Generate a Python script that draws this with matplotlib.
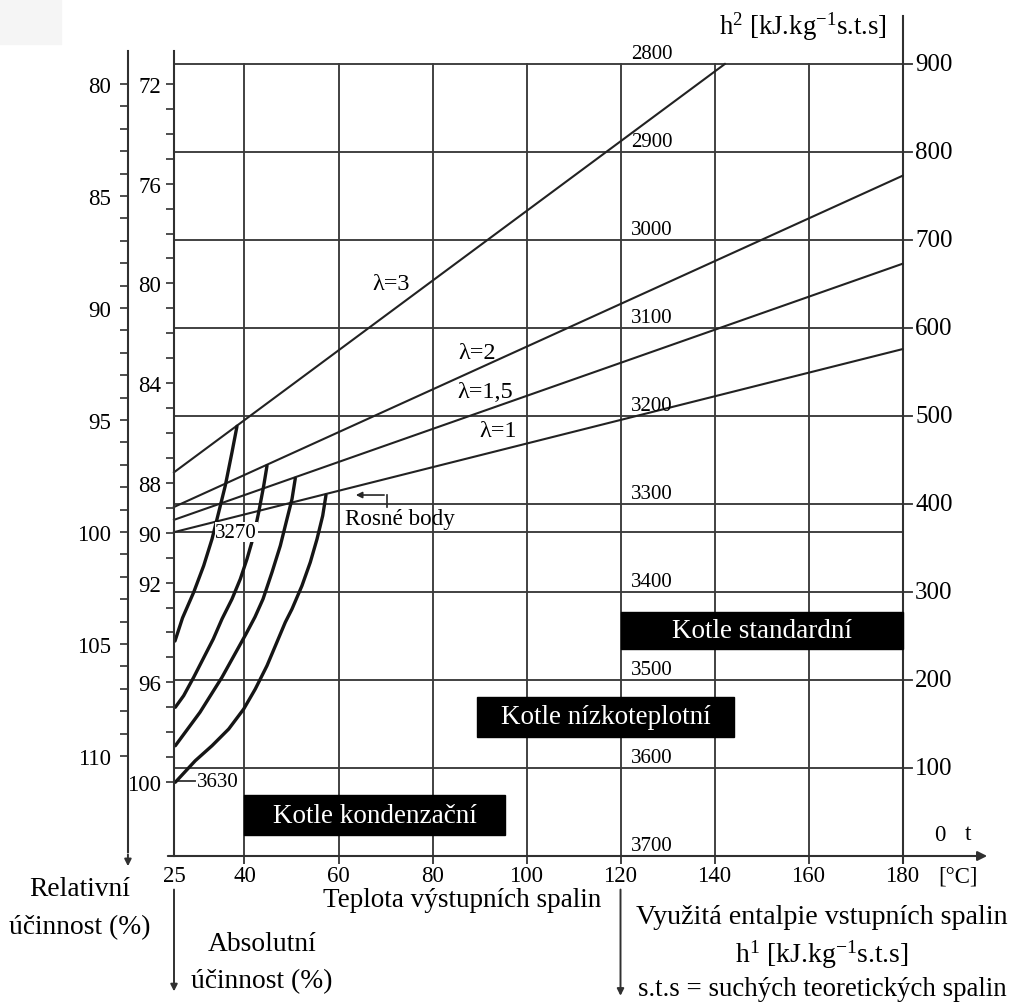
import numpy as np
import matplotlib
matplotlib.use("Agg")
import matplotlib.pyplot as plt
from matplotlib.patches import Rectangle
from matplotlib.ticker import FixedLocator

plt.rcParams['font.family'] = ['Liberation Serif', 'DejaVu Serif']
plt.rcParams['mathtext.fontset'] = 'custom'
plt.rcParams['mathtext.rm'] = 'Liberation Serif'
plt.rcParams['mathtext.it'] = 'Liberation Serif:italic'

# --- data (x = teplota [°C], y = h2 [kJ/kg]) ---
teploty = [25, 40, 60, 80, 100, 120, 140, 160, 180]
h2_hodnoty = [100, 200, 300, 400, 500, 600, 700, 800, 900]
h1_hodnoty = [3700, 3600, 3500, 3400, 3300, 3200, 3100, 3000, 2900, 2800]
h2_pro_h1 = [0, 100, 200, 300, 400, 500, 600, 700, 800, 900]
h2_3270 = 368
h2_3630 = 85

abs_major = [72, 76, 80, 84, 88, 90, 92, 96, 100]
abs_minor = list(range(72, 101))
rel_major = [80, 85, 90, 95, 100, 105, 110]
rel_minor = list(range(80, 111))

# lambda lines (two end points each)
lam_text = ['λ=3', 'λ=2', 'λ=1,5', 'λ=1']
lam_t = [[25, 142.2], [25, 180], [25, 180], [25, 180]]
lam_h2 = [[436, 900], [396.6, 773], [382, 673], [368, 576]]

# dew point curves (rosne body)
rb1_t = [38.40, 37.34, 35.91, 34.51, 33.09, 31.32, 29.19, 26.81, 25.21]
rb1_h2 = [488.3, 458.8, 420.8, 390.6, 360.2, 329.9, 299.7, 270.5, 244.3]
rb2_t = [44.79, 44.09, 43.02, 41.96, 40.53, 39.11, 37.34, 35.21, 33.36, 29.19, 27.06, 25.28]
rb2_h2 = [443.5, 420.8, 390.6, 364.0, 337.5, 314.8, 292.0, 269.3, 246.6, 203.1, 182.2, 169.0]
rb3_t = [50.81, 50.11, 49.04, 47.62, 45.85, 43.94, 42.23, 40.32, 35.21, 30.53, 25.28]
rb3_h2 = [429.2, 405.7, 383.0, 352.6, 322.4, 292.0, 271.6, 252.3, 203.1, 163.3, 125.3]
rb4_t = [57.34, 56.64, 55.43, 54.00, 52.23, 50.11, 48.68, 44.79, 42.30, 39.83, 36.64,
         33.09, 29.53, 25.28]
rb4_h2 = [410.2, 386.7, 360.2, 333.8, 307.2, 280.7, 265.6, 216.3, 189.8, 167.0, 144.3,
          125.3, 108.3, 83.8]

kotle_nazvy = ['Kotle standardní', 'Kotle nízkoteplotní', 'Kotle kondenzační']
kotle_t = [[120, 180], [89.5, 144.1], [40, 95.4]]
kotle_h2 = [[235, 277], [135, 181], [24, 69]]

fig = plt.figure(figsize=(10.14, 10.04), dpi=100)
fig.patches.append(Rectangle((0, 0.955), 0.06, 0.045, transform=fig.transFigure,
                             color='#f5f5f5', zorder=0))

ax = fig.add_axes([0, 0, 1, 1])
ax.set_xlim(-12.02, 203.72)
ax.set_ylim(-167.05, 973.86)
ax.axis('off')

grid_c = '#3a3a3a'
# horizontal grid lines (extend past right axis as ticks)
for h in h2_hodnoty:
    ax.plot([25, 182.1], [h, h], color=grid_c, lw=1.35, zorder=1)
ax.plot([25, 180], [h2_3270, h2_3270], color=grid_c, lw=1.35, zorder=1)
ax.plot([25, 29.5], [h2_3630, h2_3630], color=grid_c, lw=1.35, zorder=1)

# vertical grid lines
for t in teploty[1:-1]:
    ax.plot([t, t], [-9, 900], color=grid_c, lw=1.35, zorder=1)
ax.plot([180, 180], [-9, 954.5], color='#303030', lw=1.5, zorder=1)

# bottom axis with arrow
ax.annotate('', xy=(198.6, 0), xytext=(23.1, 0),
            arrowprops=dict(arrowstyle='-|>', color='#303030', lw=1.5, mutation_scale=14))
# arrows below the axis (abs. efficiency and h1)
ax.annotate('', xy=(25, -157), xytext=(25, -35),
            arrowprops=dict(arrowstyle='-|>', color='#303030', lw=1.4, mutation_scale=10))
ax.annotate('', xy=(120, -162), xytext=(120, -35),
            arrowprops=dict(arrowstyle='-|>', color='#303030', lw=1.4, mutation_scale=10))
# relative efficiency axis arrowhead
ax.annotate('', xy=(15.2, -14.8), xytext=(15.2, 5),
            arrowprops=dict(arrowstyle='-|>', color='#303030', lw=1.4, mutation_scale=10))

# lambda lines
for tt, hh in zip(lam_t, lam_h2):
    ax.plot(tt, hh, color='#222222', lw=1.5, zorder=2)

# dew point curves
for tt, hh in [(rb1_t, rb1_h2), (rb2_t, rb2_h2), (rb3_t, rb3_h2), (rb4_t, rb4_h2)]:
    ax.plot(tt, hh, color='#151515', lw=2.4, zorder=3, solid_capstyle='round',
            solid_joinstyle='round')

# boiler boxes
for nazev, tt, hh in zip(kotle_nazvy, kotle_t, kotle_h2):
    ax.add_patch(Rectangle((tt[0], hh[0]), tt[1] - tt[0], hh[1] - hh[0],
                           facecolor='black', edgecolor='black', zorder=4))
    ax.text((tt[0] + tt[1]) / 2, (hh[0] + hh[1]) / 2, nazev, color='white',
            fontsize=19.5, ha='center', va='center', zorder=5)

# labels
for h in h2_hodnoty:
    ax.text(182.7, h, str(h), fontsize=18, ha='left', va='center')
for t in teploty:
    ax.text(t, -22.7, str(t), fontsize=16.5, ha='center', va='center',
            bbox=dict(facecolor='white', edgecolor='none', pad=1), zorder=6)
ax.text(191.8, -22.7, '[°C]', fontsize=16.5, ha='center', va='center')
ax.text(188, 24, '0', fontsize=16.5, ha='center', va='center')
ax.text(193.9, 26, 't', fontsize=16.5, ha='center', va='center')

for v, h in zip(h1_hodnoty, h2_pro_h1):
    ax.text(122.3, h + 1.5, str(v), fontsize=15, ha='left', va='bottom', zorder=6)

ax.text(38.2, h2_3270, '3270', fontsize=15, ha='center', va='center', zorder=6,
        bbox=dict(facecolor='white', edgecolor='none', pad=0.5))
ax.text(29.8, h2_3630, '3630', fontsize=15, ha='left', va='center', zorder=6)

ax.text(71.2, 651, lam_text[0], fontsize=17.5, ha='center', va='center')
ax.text(89.5, 572, lam_text[1], fontsize=17.5, ha='center', va='center')
ax.text(91.2, 528, lam_text[2], fontsize=17.5, ha='center', va='center')
ax.text(93.9, 484, lam_text[3], fontsize=17.5, ha='center', va='center')

ax.text(61.4, 384, 'Rosné body', fontsize=16.7, ha='left', va='center')
ax.plot([70.3, 70.3], [396.6, 410.2], color='#262626', lw=1.2)
ax.annotate('', xy=(63.1, 410.2), xytext=(70.3, 410.2),
            arrowprops=dict(arrowstyle='-|>', color='#262626', lw=1.2, mutation_scale=9))

ax.text(158.8, 943, r'h$^2$ [kJ.kg$^{-1}$s.t.s]', fontsize=19.3, ha='center', va='center')
ax.text(5.0, -37.5, 'Relativní', fontsize=19.8, ha='center', va='center')
ax.text(5.0, -80.7, 'účinnost (%)', fontsize=19.8, ha='center', va='center')
ax.text(43.7, -100, 'Absolutní', fontsize=19.8, ha='center', va='center')
ax.text(43.7, -142, 'účinnost (%)', fontsize=19.8, ha='center', va='center')
ax.text(86.3, -48.9, 'Teplota výstupních spalin', fontsize=19.5, ha='center', va='center')
ax.text(162.9, -69.3, 'Využitá entalpie vstupních spalin', fontsize=20.2, ha='center', va='center')
ax.text(162.9, -111.4, r'h$^1$ [kJ.kg$^{-1}$s.t.s]', fontsize=20, ha='center', va='center')
ax.text(162.9, -151, 's.t.s = suchých teoretických spalin', fontsize=19.4, ha='center', va='center')

# efficiency scales
def scale_axis(left, bottom, height, ylim, major, minor, pad, spine_end):
    a = fig.add_axes([left, bottom, 0.0005, height])
    a.patch.set_visible(False)
    for s in ['top', 'right', 'bottom']:
        a.spines[s].set_visible(False)
    a.spines['left'].set_color('#303030')
    a.spines['left'].set_linewidth(1.5)
    a.spines['left'].set_bounds(ylim[1], spine_end)
    a.set_ylim(ylim)
    a.set_xticks([])
    a.yaxis.set_major_locator(FixedLocator(major))
    a.yaxis.set_minor_locator(FixedLocator(minor))
    a.set_yticklabels([str(m) for m in major])
    a.tick_params(axis='y', which='both', direction='out', length=6, width=1.2,
                  color='#303030', labelsize=16.5, pad=pad)
    return a

ax_abs = scale_axis(174 / 1014, 1 - 990 / 1004, (990 - 52) / 1004, (108.3, 70.68),
                    abs_major, abs_minor, 3.5, 102.97)
ax_rel = scale_axis(128 / 1014, 1 - 870 / 1004, (870 - 52) / 1004, (115.04, 78.53),
                    rel_major, rel_minor, 6, 114.3)

fig.savefig('out.png', dpi=100, facecolor='white')
